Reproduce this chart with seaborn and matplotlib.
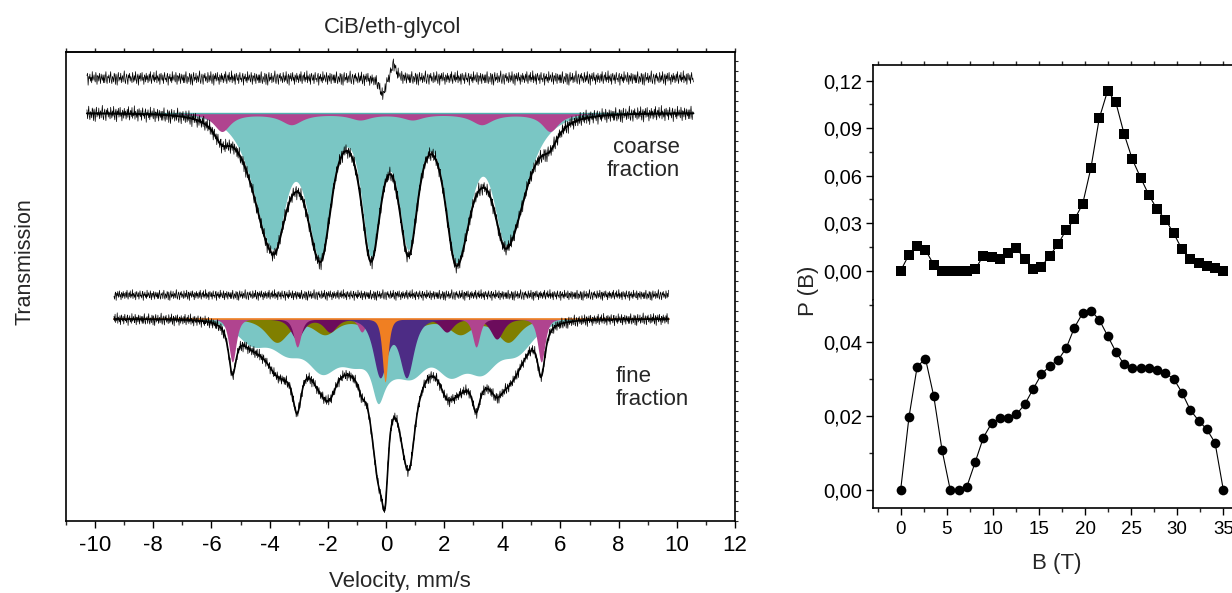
import numpy as np
import pandas as pd
import matplotlib
matplotlib.use("Agg")
import matplotlib.pyplot as plt
import seaborn as sns
from matplotlib.ticker import MultipleLocator, FixedLocator, FuncFormatter, NullFormatter

sns.set_theme(style="white")
plt.rcParams['font.family'] = ['Liberation Sans', 'DejaVu Sans']
plt.rcParams['axes.unicode_minus'] = False

# distribuzioni di campo iperfine P(B)
B_FIELD = [0.00, 0.90, 1.79, 2.69, 3.59, 4.49, 5.38, 6.28, 7.18, 8.08,
           8.97, 9.87, 10.77, 11.67, 12.56, 13.46, 14.36, 15.26, 16.15, 17.05,
           17.95, 18.85, 19.74, 20.64, 21.54, 22.44, 23.33, 24.23, 25.13, 26.03,
           26.92, 27.82, 28.72, 29.62, 30.51, 31.41, 32.31, 33.21, 34.10, 35.00]
P_COARSE = [0.0, 0.0101, 0.0154, 0.0131, 0.0038, 0.0, 0.0, 0.0, 0.0, 0.0008,
            0.0095, 0.0088, 0.0074, 0.0114, 0.0141, 0.0074, 0.0008, 0.0025, 0.0093, 0.0166,
            0.0257, 0.0324, 0.0421, 0.0650, 0.0962, 0.1135, 0.1065, 0.0865, 0.0703, 0.0587,
            0.0478, 0.0387, 0.0322, 0.0236, 0.0135, 0.0074, 0.0051, 0.0029, 0.0017, 0.0]
P_FINE = [0.0, 0.0197, 0.0334, 0.0356, 0.0254, 0.0108, 0.0, 0.0, 0.0009, 0.0075,
          0.0142, 0.0181, 0.0194, 0.0196, 0.0205, 0.0232, 0.0273, 0.0313, 0.0336, 0.0351,
          0.0384, 0.0440, 0.0479, 0.0486, 0.0461, 0.0418, 0.0375, 0.0340, 0.0330, 0.0331,
          0.0331, 0.0324, 0.0316, 0.0301, 0.0264, 0.0217, 0.0188, 0.0164, 0.0128, 0.0]

# spettri Mossbauer: posizioni righe (mm/s), profondita (% trasmissione), semilarghezze (mm/s)
COARSE_DIST_POS = [-3.89, -2.25, -0.51, 0.77, 2.42, 4.14]
COARSE_DIST_DEPTH = [13.0, 14.0, 13.7, 12.9, 14.4, 12.6]
COARSE_DIST_WL = [1.2, 0.855, 0.58, 0.59, 0.67, 0.79]
COARSE_DIST_WR = [0.79, 0.67, 0.59, 0.58, 0.87, 1.2]

COARSE_SEXT_POS = [-5.64, -3.25, -0.89, 0.91, 3.29, 5.64]
COARSE_SEXT_DEPTH = [1.8, 1.1, 0.6, 0.6, 1.1, 1.8]
COARSE_SEXT_W = [0.35, 0.45, 0.45, 0.45, 0.45, 0.35]

COARSE_RES_POS = [-0.12, 0.26]
COARSE_RES_DEPTH = [1.8, -1.6]
COARSE_RES_W = [0.12, 0.10]

FINE_DIST_POS = [-4.6, -3.4, -2.2, -1.1, -0.28, 0.0, 0.9, 2.2, 3.3, 4.5]
FINE_DIST_DEPTH = [2.2, 2.6, 4.3, 3.0, 3.4, 3.4, 4.1, 4.3, 4.1, 2.9]
FINE_DIST_W = [1.0, 1.0, 1.0, 1.0, 0.35, 1.0, 1.0, 1.0, 1.0, 1.05]

FINE_SEXT1_POS = [-5.28, -3.05, -0.83, 0.85, 3.10, 5.34]
FINE_SEXT1_DEPTH = [4.3, 2.8, 1.3, 2.0, 2.8, 4.3]
FINE_SEXT1_W = [0.23] * 6

FINE_SEXT2_POS = [-3.75, -2.1, -0.45, 0.9, 2.55, 4.2]
FINE_SEXT2_DEPTH = [2.3, 1.5, 1.0, 1.0, 1.5, 2.3]
FINE_SEXT2_W = [0.70] * 6

FINE_SEXT3_POS = [-3.07, -1.92, -0.45, 0.65, 2.09, 3.81]
FINE_SEXT3_DEPTH = [2.0, 1.3, 0.9, 0.9, 1.3, 2.0]
FINE_SEXT3_W = [0.39] * 6

FINE_DOUB_POS = [-0.20, 0.71]
FINE_DOUB_DEPTH = [5.7, 5.7]
FINE_DOUB_W = [0.43, 0.43]

FINE_SING_POS = [-0.03]
FINE_SING_DEPTH = [6.3]
FINE_SING_W = [0.18]

# rumore statistico letto a occhio (unita arbitrarie)
NOISE = [4, -6, 1, 8, -3, -7, 2, 0, -5, 6, 3, -8, 5, -1, -9, 2, 7, -4, 1, -2,
         6, -6, 0, 3, -5, 2, 9, -3, -7, 1, 5, -2, -8, 4, 0, 6, -4, 2, -1, -6,
         7, 1, -5, 3, -3, 8, -2, -7, 2, 5, -9, 3, -1, 6, -4, 0, 7, -3, 1, -8,
         4, 2, -5, 6, -2, 3, -6, 0, 5, -4, 8, -1, -7, 2, 4, -3, 7, -5, 1, -2,
         9, -6, 3, 0, -4, 5, -8, 2, 6, -1, -3, 4, -7, 1, 7, -2, 0, -5, 3, 6,
         -9, 2, -1, 5, -4, 1, -6, 8, -3, 0, 4, -2, -5, 7, 1, -8, 3, 2, -4, 6,
         -1, -7, 5, 0, -3, 4, -6]

CYAN = '#7AC6C4'
MAGENTA = '#B0448F'
OLIVE = '#807F00'
MAROON = '#6C0C5C'
PURPLE = '#4D2C85'
ORANGE = '#F07F22'

COARSE_BASE, COARSE_RES_Y = 0.408, 0.443
FINE_BASE, FINE_RES_Y = 0.202, 0.226


def righe(v, pos, depth, wl, wr, p=1):
    # somma di righe lorentziane (p=1) o lorentziane quadre (p=2), larghezze separate sx/dx
    tot = np.zeros_like(v)
    for x0, d, gl, gr in zip(pos, depth, wl, wr):
        g = np.where(v < x0, gl, gr)
        tot += d / (1 + ((v - x0) / g) ** 2) ** p
    return tot / 100


def linea(ax, x, y, lw, z, color='black'):
    sns.lineplot(x=x, y=y, ax=ax, color=color, linewidth=lw, estimator=None, sort=False, zorder=z)


fig = plt.figure(figsize=(12.32, 5.93), dpi=100)

# ---------------- pannello sinistro: spettri ----------------
ax = fig.add_axes([66 / 1232, 72 / 593, 669 / 1232, 469 / 593])
n = 1024
vc = np.linspace(-10.28, 10.57, n)
vf = np.linspace(-9.35, 9.72, n)
rumore = np.resize(np.array(NOISE, dtype=float), n)

# frazione grossolana
dist_c = righe(vc, COARSE_DIST_POS, COARSE_DIST_DEPTH, COARSE_DIST_WL, COARSE_DIST_WR, p=2)
sext_c = righe(vc, COARSE_SEXT_POS, COARSE_SEXT_DEPTH, COARSE_SEXT_W, COARSE_SEXT_W)
fit_c = COARSE_BASE - dist_c - sext_c
ax.fill_between(vc, COARSE_BASE, COARSE_BASE - dist_c, color=CYAN, lw=0, zorder=1)
ax.fill_between(vc, COARSE_BASE, COARSE_BASE - sext_c, color=MAGENTA, lw=0, zorder=2)
ax.plot(vc, np.full(n, COARSE_BASE), color='#4FB3B0', lw=1.0, zorder=2.5)
linea(ax, vc, fit_c + rumore * 0.0009, 0.5, 3)
linea(ax, vc, fit_c, 1.4, 4)
res_c = COARSE_RES_Y + np.roll(rumore, 37) * 0.0008 - righe(vc, COARSE_RES_POS, COARSE_RES_DEPTH,
                                                           COARSE_RES_W, COARSE_RES_W)
linea(ax, vc, res_c, 0.5, 3)

# frazione fine
dist_f = righe(vf, FINE_DIST_POS, FINE_DIST_DEPTH, FINE_DIST_W, FINE_DIST_W, p=2)
s1 = righe(vf, FINE_SEXT1_POS, FINE_SEXT1_DEPTH, FINE_SEXT1_W, FINE_SEXT1_W, p=2)
s2 = righe(vf, FINE_SEXT2_POS, FINE_SEXT2_DEPTH, FINE_SEXT2_W, FINE_SEXT2_W, p=2)
s3 = righe(vf, FINE_SEXT3_POS, FINE_SEXT3_DEPTH, FINE_SEXT3_W, FINE_SEXT3_W, p=2)
db = righe(vf, FINE_DOUB_POS, FINE_DOUB_DEPTH, FINE_DOUB_W, FINE_DOUB_W, p=2)
sg = righe(vf, FINE_SING_POS, FINE_SING_DEPTH, FINE_SING_W, FINE_SING_W, p=2)
fit_f = FINE_BASE - dist_f - s1 - s2 - s3 - db - sg
for comp, col, z in [(dist_f, CYAN, 1), (s2, OLIVE, 1.1), (s3, MAROON, 1.2),
                     (s1, MAGENTA, 1.3), (db, PURPLE, 1.4), (sg, ORANGE, 1.5)]:
    ax.fill_between(vf, FINE_BASE, FINE_BASE - comp, color=col, lw=0, zorder=z)
ax.plot(vf, np.full(n, FINE_BASE), color=ORANGE, lw=1.2, zorder=2.5)
linea(ax, vf, fit_f + np.roll(rumore, 61) * 0.0007, 0.5, 3)
linea(ax, vf, fit_f, 1.2, 4)
res_f = FINE_RES_Y + np.roll(rumore, 89) * 0.0006
linea(ax, vf, res_f, 0.5, 3)

ax.set_xlim(-11, 12)
ax.set_ylim(0, 0.469)
ax.xaxis.set_major_locator(MultipleLocator(2))
ax.xaxis.set_minor_locator(MultipleLocator(1))
ax.tick_params(axis='x', which='major', direction='out', length=5, width=1, labelsize=16,
               bottom=True, top=False, pad=5, colors='black')
ax.tick_params(axis='x', which='minor', direction='out', length=3, width=1, bottom=True, top=False)
ax.yaxis.set_minor_locator(MultipleLocator(0.01))
ax.yaxis.set_major_locator(FixedLocator([]))
ax.yaxis.set_minor_formatter(NullFormatter())
ax.tick_params(axis='y', which='minor', direction='out', length=2, width=0.8,
               left=False, right=True)
sec = ax.secondary_xaxis('top')
sec.xaxis.set_major_locator(MultipleLocator(1))
sec.tick_params(direction='out', length=3, width=1, labelsize=0, labeltop=False)
sec.spines['top'].set_linewidth(1.2)
for s in ax.spines.values():
    s.set_color('black')
    s.set_linewidth(1.2)
ax.set_xlabel('')
ax.set_ylabel('')
ax.text(10.1, 0.362, 'coarse\nfraction', ha='right', va='center', fontsize=16, linespacing=1.1)
ax.text(7.88, 0.133, 'fine\nfraction', ha='left', va='center', fontsize=16, linespacing=1.1)

fig.text(393 / 1232, 1 - 27 / 593, 'CiB/eth-glycol', ha='center', va='center', fontsize=16)
fig.text(25 / 1232, 1 - 262 / 593, 'Transmission', rotation=90, ha='center', va='center', fontsize=15.5)
fig.text(400 / 1232, 1 - 581 / 593, 'Velocity, mm/s', ha='center', va='center', fontsize=16)

# ---------------- pannello destro: P(B) ----------------
df = pd.DataFrame({'B': B_FIELD, 'coarse': P_COARSE, 'fine': P_FINE})
axt = fig.add_axes([873 / 1232, 293 / 593, 378 / 1232, 235 / 593])
axb = fig.add_axes([873 / 1232, 85 / 593, 378 / 1232, 208 / 593])
sns.lineplot(data=df, x='B', y='coarse', ax=axt, color='black', linewidth=0.8,
             marker='s', markersize=6.5, markeredgewidth=0)
sns.lineplot(data=df, x='B', y='fine', ax=axb, color='black', linewidth=0.8,
             marker='o', markersize=7, markeredgewidth=0)

virgola = FuncFormatter(lambda y, pos: f"{y:.2f}".replace('.', ','))
for a in (axt, axb):
    a.set_xlim(-3, 38)
    a.set_xlabel('')
    a.set_ylabel('')
    a.spines['right'].set_visible(False)
    for s in a.spines.values():
        s.set_color('black')
        s.set_linewidth(1.2)
    a.yaxis.set_major_formatter(virgola)
    a.tick_params(axis='y', which='major', direction='out', length=5, width=1,
                  labelsize=14.5, left=True, colors='black', pad=3)
    a.tick_params(axis='y', which='minor', direction='out', length=3, width=1, left=True)

axt.set_ylim(-0.0185, 0.1299)
axt.yaxis.set_major_locator(FixedLocator([0, 0.03, 0.06, 0.09, 0.12]))
axt.yaxis.set_minor_locator(FixedLocator([0.015, 0.045, 0.075, 0.105]))
axt.spines['bottom'].set_visible(False)
axt.xaxis.set_major_locator(MultipleLocator(2.5))
axt.tick_params(axis='x', which='major', direction='out', length=3, width=1,
                bottom=False, top=True, labelbottom=False, labeltop=False)

axb.set_ylim(-0.00488, 0.05146)
axb.yaxis.set_major_locator(FixedLocator([0, 0.02, 0.04]))
axb.yaxis.set_minor_locator(FixedLocator([0.01, 0.03, 0.05]))
axb.spines['top'].set_visible(False)
axb.xaxis.set_major_locator(MultipleLocator(5))
axb.xaxis.set_minor_locator(MultipleLocator(2.5))
axb.tick_params(axis='x', which='major', direction='out', length=5, width=1,
                labelsize=13.5, bottom=True, colors='black', pad=4)
axb.tick_params(axis='x', which='minor', direction='out', length=3, width=1, bottom=True)

fig.text(808 / 1232, 1 - 291 / 593, 'P (B)', rotation=90, ha='center', va='center', fontsize=16)
fig.text(1057 / 1232, 1 - 563 / 593, 'B (T)', ha='center', va='center', fontsize=16)

fig.savefig('out.png', dpi=100)
